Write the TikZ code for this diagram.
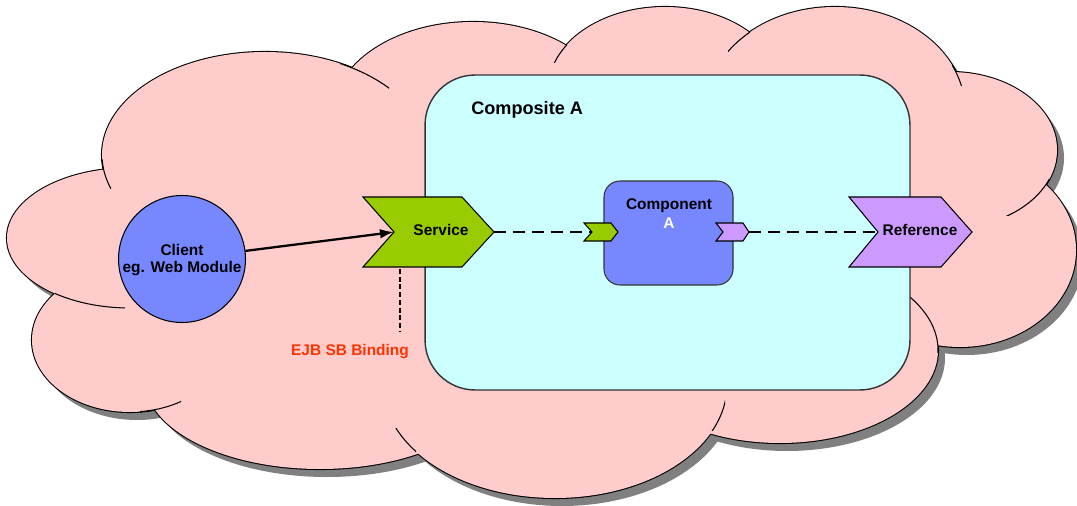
\documentclass[tikz,border=0pt]{standalone}
\usepackage{fontspec}
\setmainfont{Liberation Sans}
\usetikzlibrary{arrows.meta}
\definecolor{cloudfill}{HTML}{FFCCCC}
\definecolor{cloudshadow}{HTML}{808080}
\definecolor{compfill}{HTML}{CCFFFF}
\definecolor{bluefill}{HTML}{7788FF}
\definecolor{greenfill}{HTML}{99CC00}
\definecolor{purplefill}{HTML}{CC99FF}
\definecolor{bindred}{HTML}{FF3300}
\definecolor{boxline}{HTML}{333333}
\tikzset{
  lbl/.style={font=\fontsize{8.8}{10.2}\selectfont\bfseries, inner sep=0pt, align=center},
  chev/.style={draw=black, line width=0.6pt, line join=miter},
  dashconn/.style={line width=1.3pt, dash pattern=on 6.8pt off 4pt},
  thindash/.style={line width=0.6pt, dash pattern=on 2.8pt off 1.6pt},
  lobeline/.style={line width=1.2pt},
  innerarc/.style={line width=0.6pt},
}
\begin{document}
\begin{tikzpicture}[x=0.02cm,y=-0.02cm]
\useasboundingbox (0,0) rectangle (1077,506);
\fill[white] (0,0) rectangle (1077,506);
\def\lobes{130/238/123/70, 265/155/163/103, 473/115/140/93, 665/90/117/83, 835/110/130/103, 950/150/107/78, 960/250/116/97, 780/350/158/93, 555/385/172/113, 320/380/175/89, 130/340/98/72}
\def\filler{(130,240) -- (265,155) -- (473,115) -- (665,90) -- (835,110) -- (950,150) -- (960,250) -- (780,350) -- (555,385) -- (320,380) -- (130,340) -- cycle}
% shadow
\begin{scope}[shift={(7,8)}]
  \foreach \cx/\cy/\rx/\ry in \lobes { \fill[cloudshadow] (\cx,\cy) ellipse [x radius=\rx, y radius=\ry]; }
  \fill[cloudshadow] \filler;
\end{scope}
% outlines
\foreach \cx/\cy/\rx/\ry in \lobes { \draw[lobeline] (\cx,\cy) ellipse [x radius=\rx, y radius=\ry]; }
% fill
\foreach \cx/\cy/\rx/\ry in \lobes { \fill[cloudfill] (\cx,\cy) ellipse [x radius=\rx, y radius=\ry]; }
\fill[cloudfill] \filler;
% inner arcs
\begin{scope}\clip (340,55) rectangle (389,100); \draw[innerarc] (265,155) ellipse [x radius=163, y radius=103]; \end{scope}
\begin{scope}\clip (95,160) rectangle (111,189); \draw[innerarc] (265,155) ellipse [x radius=163, y radius=103]; \end{scope}
\begin{scope}\clip (55,285) rectangle (125,312); \draw[innerarc] (130,238) ellipse [x radius=123, y radius=70]; \end{scope}
\begin{scope}\clip (140,398) rectangle (181,415); \draw[innerarc] (130,340) ellipse [x radius=98, y radius=72]; \end{scope}
\begin{scope}\clip (395,428) rectangle (416,456); \draw[innerarc] (555,385) ellipse [x radius=172, y radius=113]; \end{scope}
\begin{scope}\clip (710,400) rectangle (725,430); \draw[innerarc] (555,385) ellipse [x radius=172, y radius=113]; \end{scope}
\begin{scope}\clip (905,295) rectangle (940,352); \draw[innerarc] (780,350) ellipse [x radius=158, y radius=93]; \end{scope}
\begin{scope}\clip (1005,180) rectangle (1050,216); \draw[innerarc] (950,150) ellipse [x radius=107, y radius=78]; \end{scope}
\begin{scope}\clip (952,65) rectangle (966,86); \draw[innerarc] (835,110) ellipse [x radius=130, y radius=103]; \end{scope}
\begin{scope}\clip (728,28) rectangle (750,53); \draw[innerarc] (835,110) ellipse [x radius=130, y radius=103]; \end{scope}
\begin{scope}\clip (553,40) rectangle (567,63); \draw[innerarc] (665,90) ellipse [x radius=117, y radius=83]; \end{scope}

% composite
\node[draw=boxline, line width=0.8pt, fill=compfill, rounded corners=1.0cm, minimum width=9.7cm, minimum height=6.3cm, inner sep=0pt] (composite) at (667.5,232.5) {};
\node[font=\fontsize{10.3}{12}\selectfont\bfseries, inner sep=0pt, anchor=west] (compositeLbl) at (471,110) {Composite A};

% component
\node[draw=boxline, line width=0.6pt, fill=bluefill, rounded corners=0.32cm, minimum width=2.58cm, minimum height=2.08cm, inner sep=0pt] (comp) at (668.5,233) {};
\node[lbl, font=\fontsize{8.8}{10.8}\selectfont\bfseries] (compLbl) at (669,214) {Component\\\textcolor{white}{A}};

% client
\node[draw=black, line width=0.6pt, fill=bluefill, circle, minimum size=2.54cm, inner sep=0pt] (client) at (182,259) {};
\node[lbl] (clientLbl) at (182,260) {Client\\eg. Web Module};

% service chevron
\draw[chev, fill=greenfill] (363,197) coordinate (svcTL) -- (462,197) -- (494,232) coordinate (svcTip) -- (462,267) -- (363,267) -- (394,232) coordinate (svcNotch) -- cycle;
\node[lbl] (svc) at (441,230) {Service};

% small green chevron
\draw[chev, fill=greenfill] (584,223) -- (611,223) -- (618,232) coordinate (gTip) -- (611,241) -- (584,241) -- (592,232) coordinate (gNotch) -- cycle;
% small purple chevron
\draw[chev, fill=purplefill] (716,223) -- (743,223) -- (749,232) coordinate (pTip) -- (743,241) -- (716,241) -- (723,232) coordinate (pNotch) -- cycle;

% reference chevron
\draw[chev, fill=purplefill] (849,197) -- (941,197) -- (972,232) coordinate (refTip) -- (941,267) -- (849,267) -- (878,232) coordinate (refNotch) -- cycle;
\node[lbl] (ref) at (920,230) {Reference};

% connectors
\draw[line width=1.3pt, -{Latex[length=8pt,width=5.5pt]}] (client) -- (svcNotch);
\draw[dashconn] (svcTip) -- (gNotch);
\draw[dashconn] (pTip) -- (refNotch);

% binding
\coordinate (bindTop) at (400,269);
\coordinate (bindBot) at (400,331);
\draw[thindash] (bindTop) -- (bindBot);
\node[lbl, text=bindred] (bind) at (350,352) {EJB SB Binding};
\end{tikzpicture}
\end{document}
